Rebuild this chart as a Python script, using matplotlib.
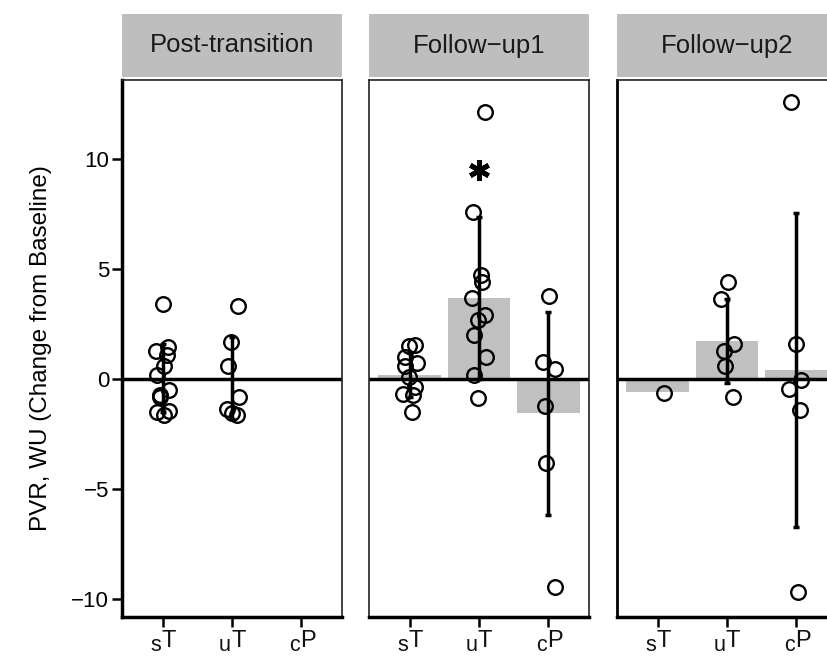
import numpy as np
import matplotlib
matplotlib.use('Agg')
import matplotlib.pyplot as plt

plt.rcParams['font.family'] = ['Liberation Sans', 'DejaVu Sans']

# --- data ---
panels = ['Post-transition', 'Follow\u2212up1', 'Follow\u2212up2']
groups = ['sT', 'uT', 'cP']
label_pre = ['s', 'u', 'c']
label_main = ['T', 'T', 'P']

post_sT = [3.4, 1.45, 1.3, 1.1, 0.6, 0.2, -0.5, -0.7, -0.8, -1.45, -1.5, -1.6]
post_uT = [3.35, 1.7, 0.6, -0.8, -1.35, -1.55, -1.6]
post_cP = []
fu1_sT = [1.55, 1.5, 1.0, 0.75, 0.6, 0.1, -0.35, -0.65, -0.7, -1.5]
fu1_uT = [12.15, 7.6, 4.75, 4.4, 3.7, 2.9, 2.7, 2.0, 1.0, 0.2, -0.85]
fu1_cP = [3.8, 0.8, 0.45, -1.2, -3.8, -9.45]
fu2_sT = [-0.6]
fu2_uT = [4.4, 3.65, 1.6, 1.3, 0.6, -0.8]
fu2_cP = [12.6, 1.6, -0.05, -0.45, -1.4, -9.65]

points = [[post_sT, post_uT, post_cP],
          [fu1_sT, fu1_uT, fu1_cP],
          [fu2_sT, fu2_uT, fu2_cP]]

means = [[0.05, 0.05, np.nan],
         [0.2, 3.68, -1.55],
         [-0.58, 1.74, 0.42]]
sds = [[1.55, 1.85, np.nan],
       [1.0, 3.68, 4.6],
       [np.nan, 1.92, 7.15]]

signif = [(1, 1, 9.5)]  # panel, group, y of asterisk

# --- layout (pixels of the 827x661 canvas) ---
W, H = 827, 661
lefts = [122, 369, 617]
pw = 220
top, bottom = 80, 617
strip_top, strip_bot = 14, 77
pt = 72 / 100  # points per pixel

fig = plt.figure(figsize=(W / 100, H / 100), dpi=100)

for p, name in enumerate(panels):
    ax = fig.add_axes([lefts[p] / W, 1 - bottom / H, pw / W, (bottom - top) / H])
    x = np.arange(len(groups))
    ax.bar(x, means[p], width=0.9, color='#c0c0c0', zorder=1)
    ax.axhline(0, color='black', lw=2.5, zorder=2)
    ax.errorbar(x, means[p], yerr=sds[p], fmt='none', ecolor='black',
                elinewidth=2.5, capsize=2, capthick=2.5, zorder=3)
    for g, vals in enumerate(points[p]):
        n = len(vals)
        jit = 0.1 * np.sin(2.3 * np.arange(n) + g + p)
        ax.plot(g + jit, vals, 'o', ms=10.5, mfc='none', mec='black',
                mew=1.7, zorder=4, clip_on=False)
    for pp, g, yv in signif:
        if pp == p:
            ax.plot(g, yv, marker=(6, 2, 0), ms=15, mew=3.5, color='black')

    ax.set_xlim(-0.586, 2.586)
    ax.set_ylim(-10.8, 13.6)
    ax.set_xticks(x)
    ax.set_xticklabels([''] * len(groups))
    ax.tick_params(axis='x', length=7.2, width=1.8)
    for g in x:
        ax.annotate(label_pre[g], (g, 0), xycoords=('data', 'axes fraction'),
                    xytext=(-1.0 * pt, -34 * pt), textcoords='offset points',
                    ha='right', va='baseline', fontsize=15.5, color='#111111')
        ax.annotate(label_main[g], (g, 0), xycoords=('data', 'axes fraction'),
                    xytext=(-1.0 * pt, -30 * pt), textcoords='offset points',
                    ha='left', va='baseline', fontsize=17, color='#111111')
    for s in ['top', 'right', 'left']:
        ax.spines[s].set_linewidth(1.2)
        ax.spines[s].set_color('#222222')
    ax.spines['bottom'].set_linewidth(2.5)
    if p == 0:
        ax.set_yticks([-10, -5, 0, 5, 10])
        ax.tick_params(axis='y', length=7.2, width=1.8, pad=2, labelsize=16)
        ax.spines['left'].set_linewidth(2.5)
        ax.spines['left'].set_color('black')
        ax.set_ylabel('PVR, WU (Change from Baseline)', fontsize=17.5,
                      labelpad=14)
    else:
        ax.set_yticks([])
        if p == 2:
            ax.spines['left'].set_linewidth(2)
            ax.spines['left'].set_color('black')

    sax = fig.add_axes([lefts[p] / W, 1 - strip_bot / H, pw / W,
                        (strip_bot - strip_top) / H])
    sax.set_facecolor('#bebebe')
    sax.set_xticks([])
    sax.set_yticks([])
    for s in sax.spines.values():
        s.set_visible(False)
    sax.text(0.5, 0.5, name, ha='center', va='center', fontsize=18.5,
             color='#1a1a1a', transform=sax.transAxes)

fig.savefig('out.png', dpi=100)
